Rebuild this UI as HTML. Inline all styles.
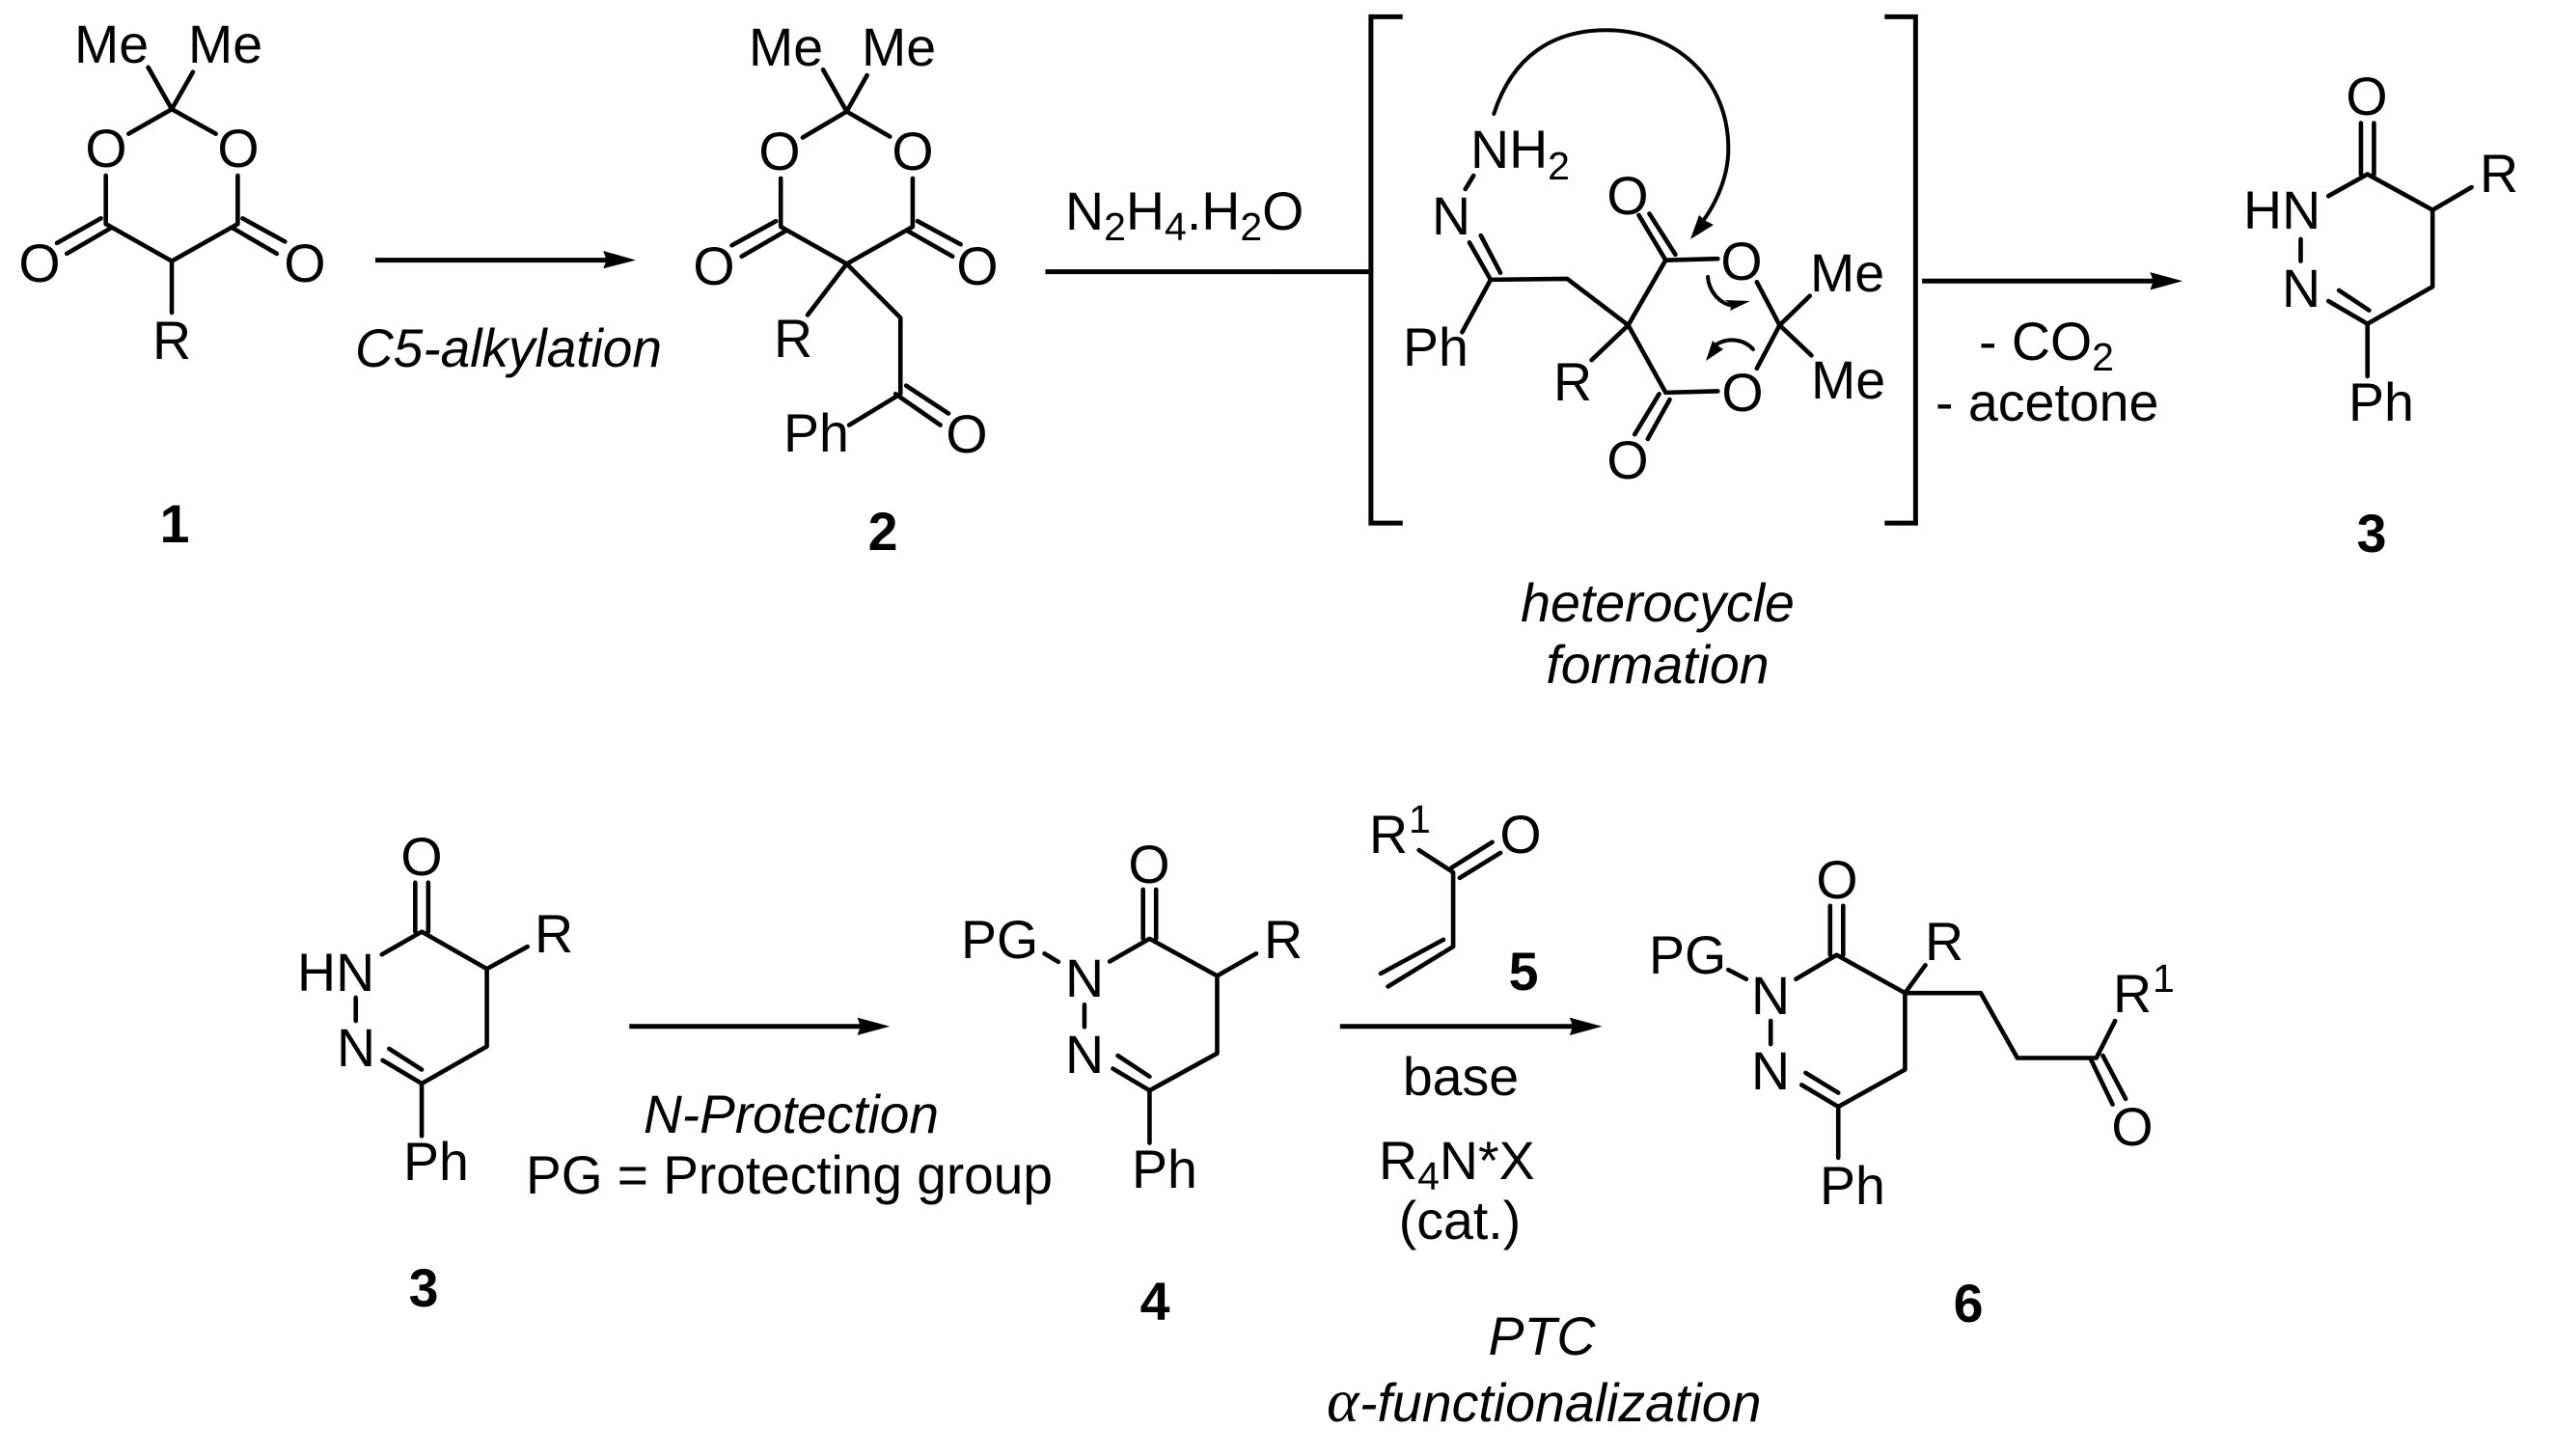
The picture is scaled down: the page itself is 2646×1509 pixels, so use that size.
<!DOCTYPE html>
<html>
<head>
<meta charset="utf-8">
<style>
html,body{margin:0;padding:0;background:#fff}
svg{display:block}
text{font-family:"Liberation Sans",sans-serif;font-size:55.5px;fill:#000}
.m{text-anchor:middle}
.b{font-weight:bold}
.i{font-style:italic}
.s{font-size:41px}
path{fill:none;stroke:#000;stroke-width:4.6;stroke-linecap:round;stroke-linejoin:round;vector-effect:non-scaling-stroke}
.a{stroke-width:5;stroke-linecap:butt}
.thin{stroke-width:4}
polygon{fill:#000;stroke:none}
</style>
</head>
<body>
<svg xmlns="http://www.w3.org/2000/svg" width="2646" height="1509" viewBox="0 0 2646 1509">
<rect width="2646" height="1509" fill="#fff"/>

<!-- Top left bonds -->
<g transform="translate(0,0) scale(0.8438,0.4815)">
<path d="M182,145L211,235L237,155M211,235L158,288M211,235L265,288"/>
<path d="M130,378V482L211,562L292,482V378M211,562V673"/>
<path d="M124,470L70,523M137,490L82,546M298,470L350,520M285,490L340,546"/>
<path class="a" d="M461,560H745"/>
<polygon points="781,560 741,540 745,560 741,578"/>
<path d="M1011,150L1040,240L1065,162M1040,240L986,296M1040,240L1093,294"/>
<path d="M959,384V488L1040,568L1121,488V384"/>
<path d="M953,476L899,528M966,496L911,552M1127,476L1180,526M1114,496L1170,552"/>
<path d="M1040,568L992,678M1040,568L1106,684V848L1043,915"/>
<path d="M1100,848L1155,915M1113,830L1165,890"/>
<path class="a" d="M1284,585H1568"/>
</g>

<!-- Top right bonds -->
<g transform="translate(1323,0) scale(0.8438,0.4815)">
<path class="a" d="M-1,585H116"/>
<path class="a" style="stroke-linejoin:miter" d="M155,36H116V1126H155M747,36H785V1126H747"/>
<path class="a" d="M793,605H1085"/>
<polygon points="1113,605 1073,586 1077,605 1073,624"/>
<path d="M242,378L232,407"/>
<path d="M263,602L237,522M275,587L251,507"/>
<path d="M228,715L263,602L357,600L432,700L387,775"/>
<path d="M432,700L478,560L542,557M478,560L445,463M490,548L458,460"/>
<path d="M432,700L478,845L542,842M470,848L440,935M483,860L456,945"/>
<path d="M590,607L618,700L590,793M618,700L655,637M618,700L657,765"/>
<path class="thin" d="M267,245C290,120 340,65 405,65C490,65 555,170 555,320C555,390 535,450 522,480"/>
<path d="M1332,265V375M1348,265V375"/>
<path d="M1292,422L1340,375L1420,452V617L1340,697L1292,648M1342,668L1305,625"/>
<path d="M1420,452L1468,403M1258,515V562M1340,697V810"/>
</g>

<!-- Curly arrows (page coordinates) -->
<polygon points="1752,248 1761,223 1768,229 1776,233"/>
<path class="thin" d="M1770,287C1771,300 1780,314 1796,317"/>
<polygon points="1814,312 1793,322 1795,316 1788,311"/>
<path class="thin" d="M1817,362C1808,352 1792,349 1779,357"/>
<polygon points="1768,374 1775,353 1780,358 1786,362"/>

<!-- Bottom left bonds -->
<g transform="translate(0,755) scale(0.8438,0.481)">
<path d="M510,332V438M526,332V438"/>
<path d="M469,487L518,438L598,518V685L518,765L470,715M518,735L478,690"/>
<path d="M598,518L648,470M437,580V630M518,765V878"/>
<path class="a" d="M773,642H1065"/>
<polygon points="1093,642 1053,623 1057,642 1053,661"/>
<path d="M1404,347V453M1420,347V453"/>
<path d="M1363,502L1412,453L1495,533V700L1412,780L1367,733M1412,750L1373,705"/>
<path d="M1495,533L1543,485M1283,485L1300,503M1332,595V643M1412,780V893"/>
</g>

<!-- Bottom right bonds -->
<g transform="translate(1323,755) scale(0.8438,0.481)">
<path d="M175,262L217,310V470L137,556M205,455L128,528"/>
<path d="M215,300L265,245M225,322L275,268"/>
<path class="a" d="M78,642H372"/>
<polygon points="400,642 360,623 364,642 360,661"/>
<path d="M680,382V488M696,382V488"/>
<path d="M638,540L688,488L772,570V735L690,815L645,768M690,785L650,742"/>
<path d="M555,520L577,540M607,630V680M690,815V925"/>
<path d="M772,570L797,510M772,570H865L910,710H1007L1030,630"/>
<path d="M1000,712L1027,810M1015,705L1043,798"/>
</g>

<!-- Compound 1 -->
<text x="77" y="65">Me</text><text x="195" y="65">Me</text>
<text class="m" x="110" y="173">O</text><text class="m" x="247" y="173">O</text>
<text class="m" x="41" y="292">O</text><text class="m" x="316" y="292">O</text>
<text class="m" x="178" y="372">R</text>
<text class="m b" x="181" y="562">1</text>
<text class="i" x="368" y="380" textLength="318" lengthAdjust="spacingAndGlyphs">C5-alkylation</text>

<!-- Compound 2 -->
<text x="776" y="68">Me</text><text x="893" y="68">Me</text>
<text class="m" x="808" y="176">O</text><text class="m" x="946" y="176">O</text>
<text class="m" x="740" y="295">O</text><text class="m" x="1013" y="295">O</text>
<text class="m" x="822" y="370">R</text>
<text x="812" y="468">Ph</text><text class="m" x="1002" y="469">O</text>
<text class="m b" x="915" y="570">2</text>
<text x="1104" y="238">N<tspan class="s" dy="11">2</tspan><tspan dy="-11">H</tspan><tspan class="s" dy="11">4</tspan><tspan dy="-11">.H</tspan><tspan class="s" dy="11">2</tspan><tspan dy="-11">O</tspan></text>

<!-- Bracket intermediate -->
<text x="1524" y="174">NH<tspan class="s" dy="12">2</tspan></text>
<text class="m" x="1504" y="243">N</text>
<text x="1454" y="379">Ph</text>
<text class="m" x="1630" y="415">R</text>
<text class="m" x="1687" y="222">O</text>
<text class="m" x="1805" y="290">O</text>
<text class="m" x="1806" y="426">O</text>
<text class="m" x="1687" y="496">O</text>
<text x="1876" y="302">Me</text><text x="1877" y="413">Me</text>
<text class="m i" x="1718" y="644">heterocycle</text>
<text class="m i" x="1718" y="708">formation</text>
<text x="2051" y="373">- CO<tspan class="s" dy="11">2</tspan></text>
<text x="2006" y="436">- acetone</text>

<!-- Compound 3 top -->
<text class="m" x="2453" y="119">O</text>
<text class="m" x="2590" y="199">R</text>
<text x="2325" y="237">HN</text>
<text class="m" x="2385" y="318">N</text>
<text x="2434" y="436">Ph</text>
<text class="m b" x="2458" y="572">3</text>

<!-- Compound 3 bottom -->
<text class="m" x="437" y="907">O</text>
<text class="m" x="574" y="987">R</text>
<text x="308" y="1027">HN</text>
<text class="m" x="369" y="1105">N</text>
<text x="418" y="1223">Ph</text>
<text class="m b" x="439" y="1354">3</text>
<text class="m i" x="820" y="1174" textLength="306" lengthAdjust="spacingAndGlyphs">N-Protection</text>
<text class="m" x="818" y="1237" textLength="546" lengthAdjust="spacingAndGlyphs">PG = Protecting group</text>

<!-- Compound 4 -->
<text class="m" x="1191" y="915">O</text>
<text class="m" x="1330" y="993">R</text>
<text x="996" y="993">PG</text>
<text class="m" x="1124" y="1033">N</text>
<text class="m" x="1124" y="1112">N</text>
<text x="1173" y="1231">Ph</text>
<text class="m b" x="1197" y="1368">4</text>

<!-- Reagents -->
<text x="1419" y="884">R</text><text class="s" x="1460" y="863">1</text>
<text class="m" x="1576" y="884">O</text>
<text class="m b" x="1579" y="1026">5</text>
<text class="m" x="1514" y="1135">base</text>
<text x="1429" y="1222">R<tspan class="s" dy="11">4</tspan><tspan dy="-11">N*X</tspan></text>
<text class="m" x="1513" y="1284">(cat.)</text>
<text class="m i" x="1598" y="1404">PTC</text>
<text class="i" x="1375" y="1473" style="font-family:'Liberation Serif',serif;font-size:64px">α</text>
<text class="i" x="1409" y="1473">-functionalization</text>

<!-- Compound 6 -->
<text class="m" x="1904" y="931">O</text>
<text x="1709" y="1009">PG</text>
<text class="m" x="1835" y="1051">N</text>
<text class="m" x="1835" y="1129">N</text>
<text x="1886" y="1248">Ph</text>
<text class="m" x="2015" y="995">R</text>
<text x="2190" y="1049">R</text><text class="s" x="2231" y="1028">1</text>
<text class="m" x="2210" y="1187">O</text>
<text class="m b" x="2040" y="1370">6</text>
</svg>
</body>
</html>
